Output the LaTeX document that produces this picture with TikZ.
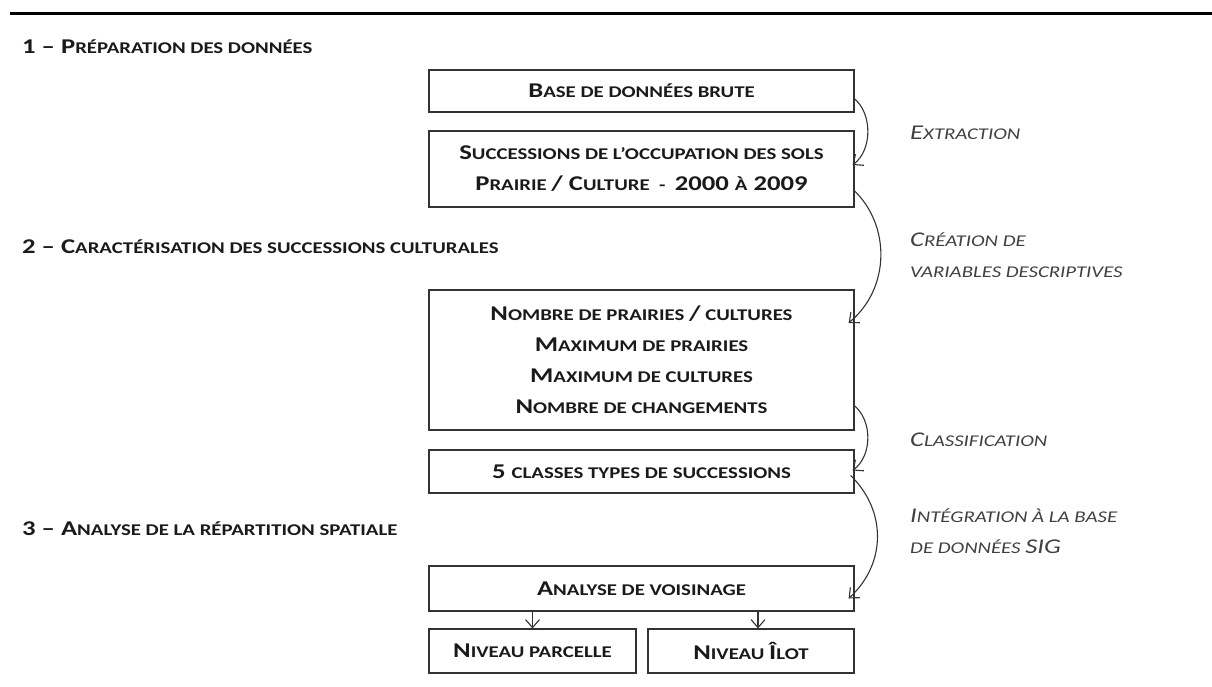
\documentclass[tikz,border=0pt]{standalone}
\usepackage{fontspec}
\setmainfont[FakeStretch=1.27]{Carlito}
\newfontfamily\scf[Scale=0.78,FakeStretch=1.27]{Carlito}
\usetikzlibrary{arrows.meta,calc}
\definecolor{ink}{HTML}{1A1A1A}
\definecolor{lab}{HTML}{404040}
\definecolor{edge}{HTML}{333333}
\tikzset{
  box/.style={draw=edge, line width=1.2pt, inner sep=0pt, align=center, text=ink,
    font=\fontsize{21}{31}\selectfont\bfseries},
  head/.style={anchor=west, inner sep=0pt, text=ink, font=\fontsize{21}{30}\selectfont\bfseries},
  lbl/.style={anchor=west, inner sep=0pt, align=left, text=lab, font=\fontsize{21}{31}\selectfont\itshape},
  flow/.style={draw=edge, line width=1.1pt, -{Straight Barb[length=8pt,width=14pt]}},
}
\begin{document}
\begin{tikzpicture}[x=1pt,y=-1pt]
\useasboundingbox (0,0) rectangle (1212,686);
\draw[line width=3pt, black] (10,13) -- (1212,13);
% headers
\node[head] (h1) at (22,47) {1 -- P{\scf RÉPARATION DES DONNÉES}};
\node[head] (h2) at (22,247) {2 -- C{\scf ARACTÉRISATION DES SUCCESSIONS CULTURALES}};
\node[head] (h3) at (22,529) {3 -- A{\scf NALYSE DE LA RÉPARTITION SPATIALE}};
% boxes
\node[box, minimum width=425pt, minimum height=42pt] (b1) at (641.5,91) {B{\scf ASE DE DONNÉES BRUTE}};
\node[box, minimum width=425pt, minimum height=76pt] (b2) at (641.5,169) {S{\scf UCCESSIONS DE L’OCCUPATION DES SOLS}\\P{\scf RAIRIE }/ C{\scf ULTURE~~-~~}2000 {\scf À} 2009};
\node[box, minimum width=425pt, minimum height=140pt] (b3) at (641.5,360) {N{\scf OMBRE DE PRAIRIES }/{\scf\ CULTURES}\\M{\scf AXIMUM DE PRAIRIES}\\M{\scf AXIMUM DE CULTURES}\\N{\scf OMBRE DE CHANGEMENTS}};
\node[box, minimum width=425pt, minimum height=43pt] (b4) at (641.5,471.5) {5 {\scf CLASSES TYPES DE SUCCESSIONS}};
\node[box, minimum width=425pt, minimum height=45pt] (b5) at (641.5,588.5) {A{\scf NALYSE DE VOISINAGE}};
\node[box, minimum width=207pt, minimum height=44pt] (b6) at (532.5,651) {N{\scf IVEAU PARCELLE}};
\node[box, minimum width=206pt, minimum height=44pt] (b7) at (751,651) {N{\scf IVEAU }Î{\scf LOT}};
% labels
\node[lbl] (l1) at (910,133) {E{\scf XTRACTION}};
\node[lbl] (l2) at (910,255) {C{\scf RÉATION DE}\\{\scf VARIABLES DESCRIPTIVES}};
\node[lbl] (l3) at (910,440) {C{\scf LASSIFICATION}};
\node[lbl] (l4) at (910,531) {I{\scf NTÉGRATION À LA BASE}\\{\scf DE DONNÉES }SIG};
% curved connectors
\draw[flow] ($(b1.east)+(-1,7)$) .. controls +(19,15) and +(20,-15) .. ($(b2.east)+(-2,-4)$);
\draw[flow] ($(b2.east)+(-1,21)$) .. controls +(37,35) and +(42,-35) .. ($(b3.east)+(-6,-37)$);
\draw[flow] ($(b3.east)+(-1,45)$) .. controls +(19,15) and +(20,-15) .. ($(b4.east)+(-2,-1)$);
\draw[flow] ($(b4.east)+(-4,4)$) .. controls +(36,35) and +(38,-35) .. ($(b5.east)+(-6,10)$);
% straight connectors
\coordinate (t7) at ($(b7.north)+(7,0)$);
\draw[flow] (b6.north |- b5.south) -- (b6.north);
\draw[flow] (t7 |- b5.south) -- (t7);
\end{tikzpicture}
\end{document}
